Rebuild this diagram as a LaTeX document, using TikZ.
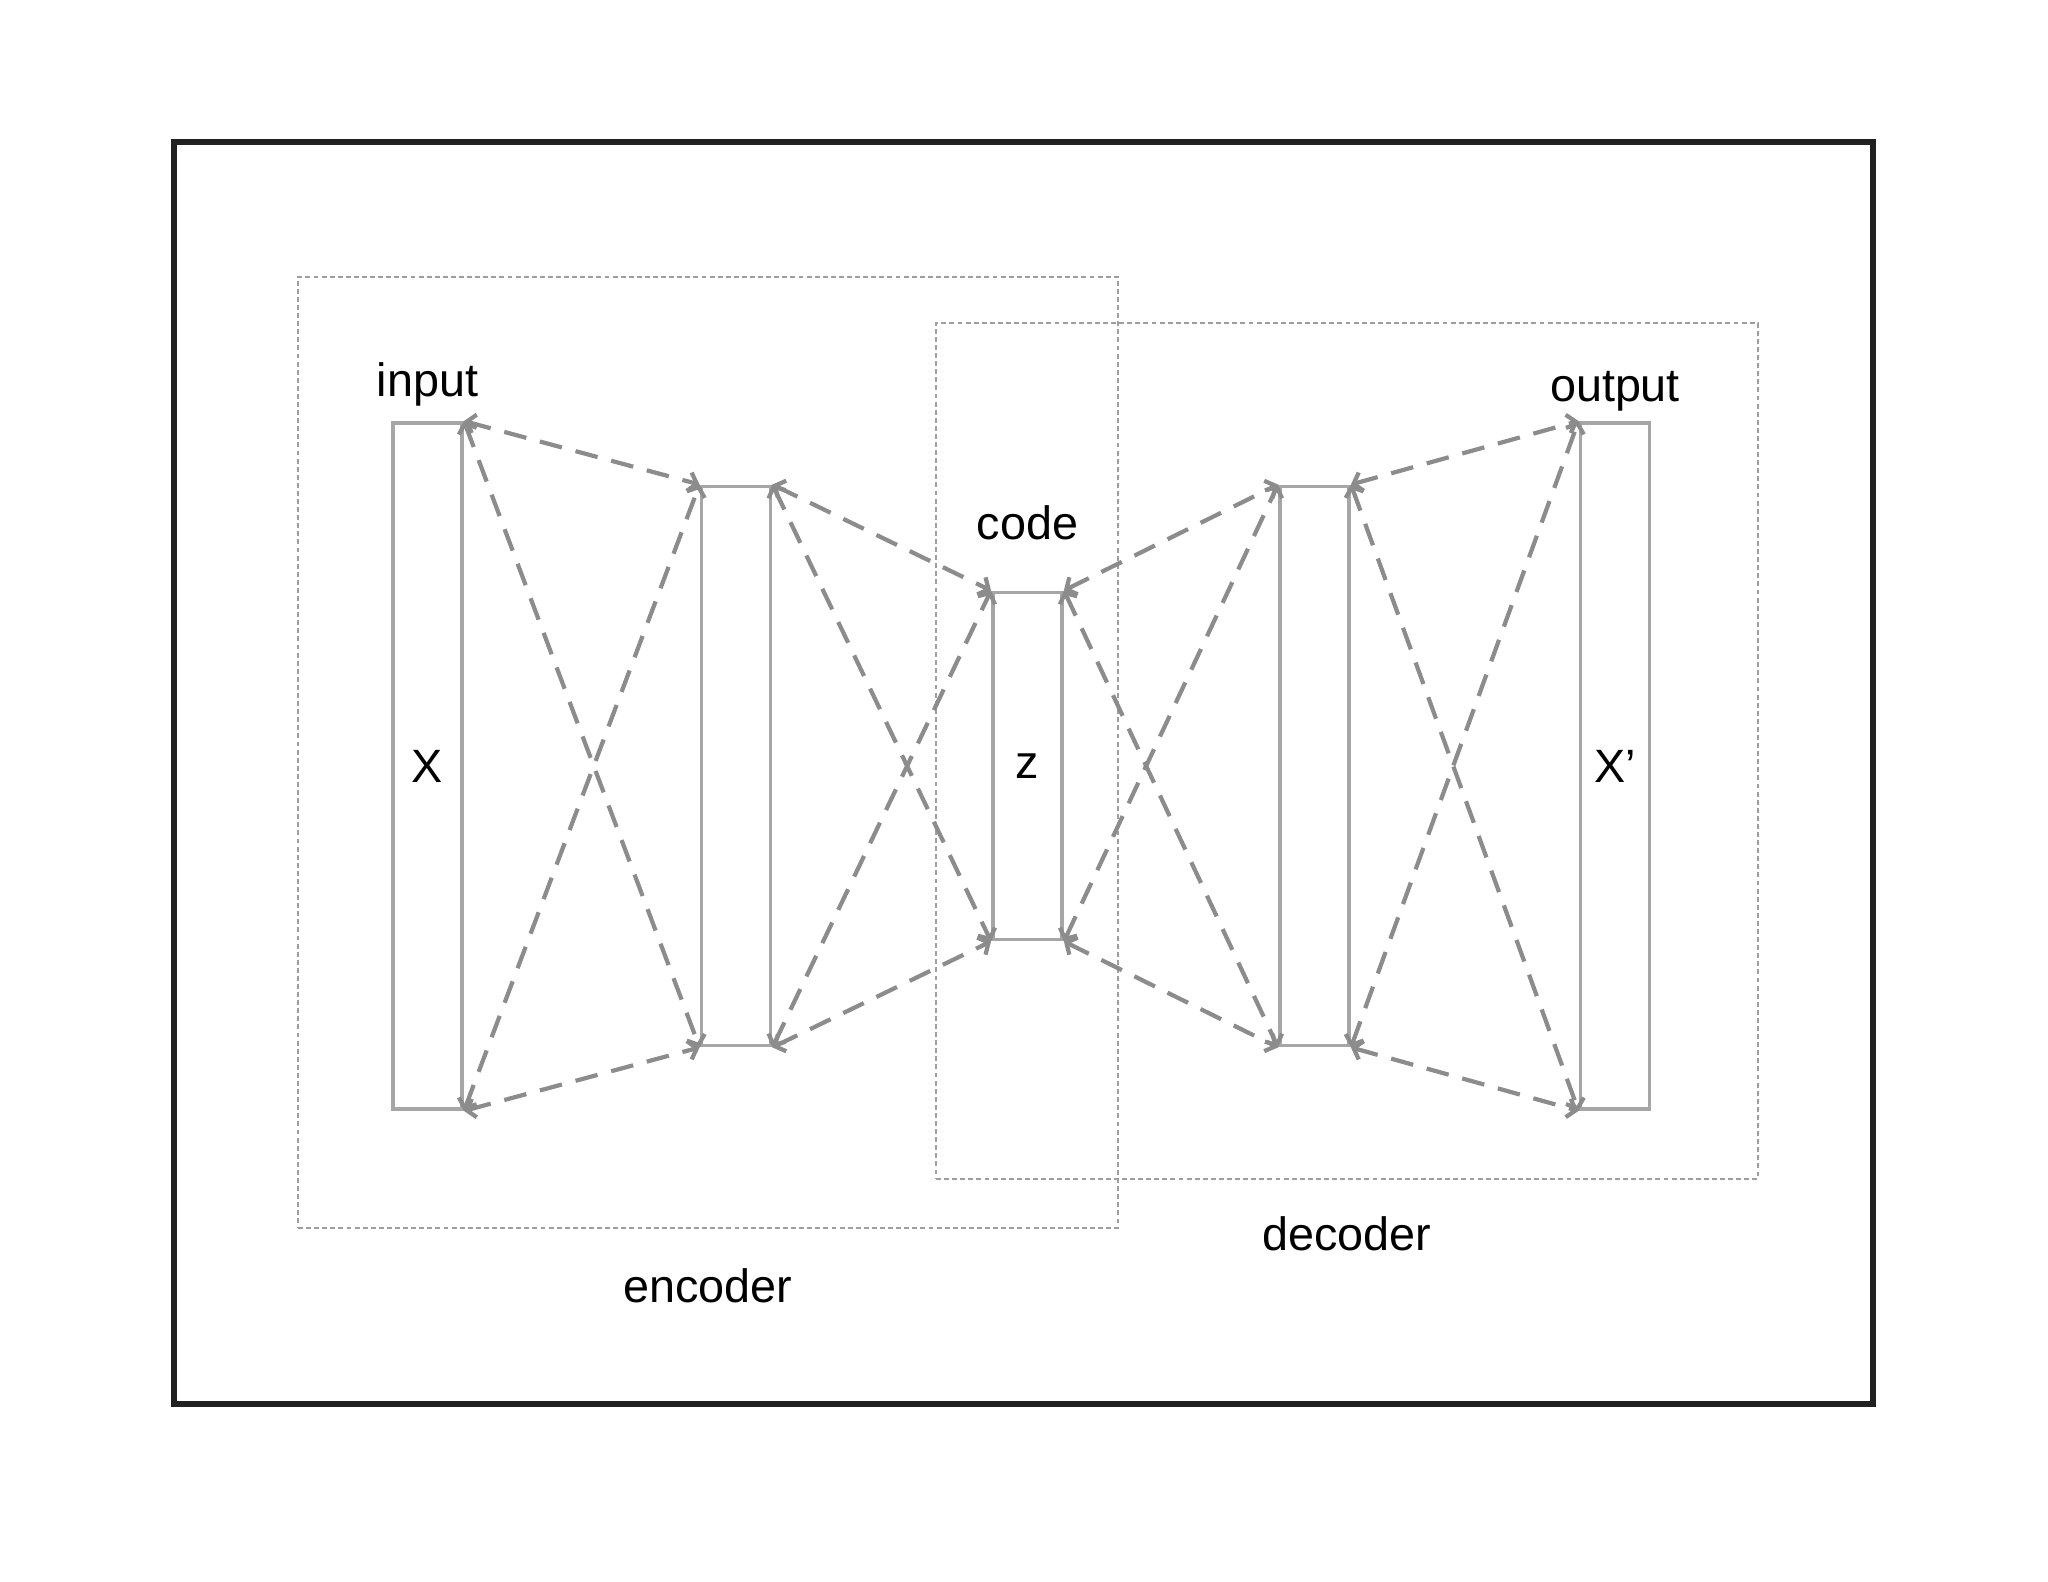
\documentclass[tikz,border=0pt]{standalone}
\usepackage{fontspec}
\setmainfont{Liberation Sans}
\usetikzlibrary{arrows.meta,positioning}
\newcommand{\lblfont}{\fontsize{13.3}{15.5}\selectfont}
\tikzset{
  layer/.style  ={rectangle,draw=black!35,line width=1.1pt,fill=white,
                  minimum width=6.9mm,inner sep=0pt,font=\lblfont},
  layerT/.style ={layer,minimum height=68.6mm},
  layerM/.style ={layer,minimum height=55.9mm},
  layerS/.style ={layer,minimum height=34.7mm},
  grp/.style    ={rectangle,draw=black!38,line width=0.6pt,
                  dash pattern=on 1.4pt off 0.9pt,inner sep=0pt},
  lnk/.style    ={draw=black!45,line width=1.2pt,
                  dash pattern=on 6.5pt off 4pt},
  lbl/.style    ={font=\lblfont,inner sep=0pt},
  frm/.style    ={draw=black!87,line width=1.7pt},
}

\begin{document}
\begin{tikzpicture}[
  >={Straight Barb[length=0.8mm,width=1.9mm]},
  x=1cm, y=1cm,
]
\useasboundingbox (0,0) rectangle (20.48,15.82);

%% ---------------- frame ----------------
\draw[frm] (1.74,1.78) rectangle (18.73,14.40);

%% ---------------- groups ----------------
\node[grp,minimum width=82mm,minimum height=95.1mm] (enc) at ( 7.08,8.295) {};
\node[grp,minimum width=82.2mm,minimum height=85.6mm] (dec) at (13.47,8.31) {};
\node[lbl,below=3.9mm of enc] (enclbl) {encoder};
\node[lbl,below=3.6mm of dec] (declbl) {decoder};

%% ---------------- layers ----------------
\node[layerT] (inbar)  at ( 4.275,8.16) {X};
\node[layerM] (hidA)   at ( 7.36, 8.16) {};
\node[layerS] (codebar) at (10.275,8.16) {z};
\node[layerM] (hidB)   at (13.145,8.16) {};
\node[layerT] (outbar) at (16.15, 8.16) {X'};

\node[lbl,above=1.4mm of inbar]  (inlbl)   {input};
\node[lbl,above=5mm of codebar]  (codelbl) {code};
\node[lbl,above=0.9mm of outbar] (outlbl)  {output};

%% ---------------- connections ----------------
%% every right corner of a layer is joined to both left corners of the next
\foreach \u/\v in {inbar/hidA, hidA/codebar, codebar/hidB, hidB/outbar}{
  \foreach \p in {north east, south east}{
    \draw[lnk,<->] (\u.\p) -- (\v.north west);
    \draw[lnk,<->] (\u.\p) -- (\v.south west);
  }
}

\end{tikzpicture}
\end{document}
